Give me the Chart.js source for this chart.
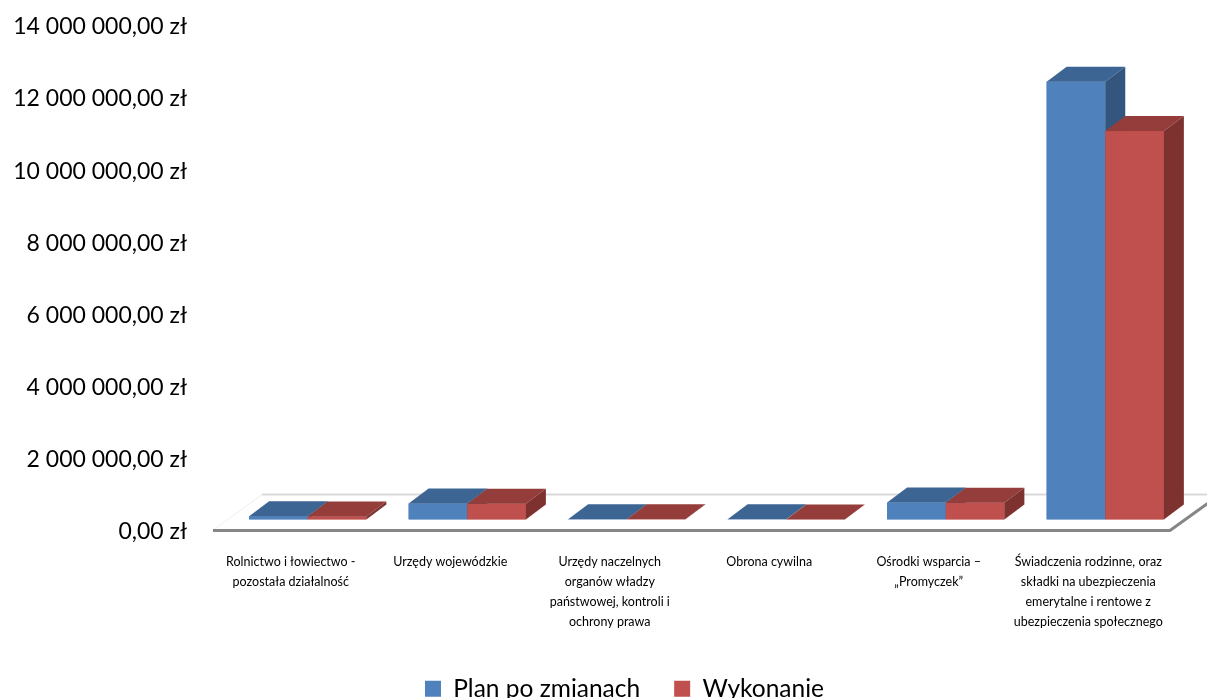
<!DOCTYPE html>
<html>
<head>
<meta charset="utf-8">
<script src="https://cdn.jsdelivr.net/npm/chart.js@4.4.1/dist/chart.umd.min.js"></script>
<style>
  html, body { margin: 0; padding: 0; background: #fff; overflow: hidden; }
  #wrap { width: 1207px; height: 711px; position: relative; }
</style>
</head>
<body>
<div id="wrap"><canvas id="budgetChart"></canvas></div>
<script>
const CATEGORIES = [
  ["Rolnictwo i łowiectwo -", "pozostała działalność"],
  ["Urzędy wojewódzkie"],
  ["Urzędy naczelnych", "organów władzy", "państwowej, kontroli i", "ochrony prawa"],
  ["Obrona cywilna"],
  ["Ośrodki wsparcia –", "„Promyczek”"],
  ["Świadczenia rodzinne, oraz", "składki na ubezpieczenia", "emerytalne i rentowe z", "ubezpieczenia społecznego"],
];

const PLAN = [90000, 445000, 5000, 4000, 470000, 12150000];
const WYKONANIE = [85000, 440000, 4000, 3000, 465000, 10780000];

const Y_TICKS = [0, 2000000, 4000000, 6000000, 8000000, 10000000, 12000000, 14000000];
const Y_TICK_LABELS = [
  "0,00 zł", "2 000 000,00 zł", "4 000 000,00 zł", "6 000 000,00 zł",
  "8 000 000,00 zł", "10 000 000,00 zł", "12 000 000,00 zł", "14 000 000,00 zł",
];

// colours of the fake 3d faces, per dataset
const FACES = [
  { front: "#4F81BD", top: "#3D6594", side: "#33557E" },
  { front: "#C0504D", top: "#943D3B", side: "#7D3230" },
];
const DEPTH_X = 20;
const DEPTH_Y = -15;

function poly(ctx, pts, color) {
  ctx.beginPath();
  ctx.moveTo(pts[0][0], pts[0][1]);
  for (let i = 1; i < pts.length; i++) ctx.lineTo(pts[i][0], pts[i][1]);
  ctx.closePath();
  ctx.fillStyle = color;
  ctx.fill();
}

// floor of the excel-like 3d chart + top/side faces of the bars
const bars3d = {
  id: "bars3d",
  afterLayout(chart) {
    // the excel legend sits a bit right of the centre
    chart.legend.left += 32;
    chart.legend.right += 32;
  },
  beforeDatasetsDraw(chart) {
    const ctx = chart.ctx;
    const area = chart.chartArea;
    const zero = chart.scales.y.getPixelForValue(0);
    ctx.save();
    // back edge of the floor
    ctx.strokeStyle = "#d9d9d9";
    ctx.lineWidth = 2;
    ctx.beginPath();
    ctx.moveTo(area.left + 34, zero - 25);
    ctx.lineTo(chart.width, zero - 25);
    ctx.stroke();
    // faint left edge
    ctx.strokeStyle = "#eeeeee";
    ctx.lineWidth = 1;
    ctx.beginPath();
    ctx.moveTo(area.left - 15, zero + 11);
    ctx.lineTo(area.left + 34, zero - 25);
    ctx.stroke();
    // front edge
    ctx.strokeStyle = "#868686";
    ctx.lineWidth = 3;
    ctx.beginPath();
    ctx.moveTo(area.left - 15, zero + 11);
    ctx.lineTo(area.right - 15, zero + 11);
    ctx.lineTo(area.right + 35, zero - 25);
    ctx.stroke();
    ctx.restore();
  },
  afterDatasetsDraw(chart) {
    const ctx = chart.ctx;
    ctx.save();
    chart.data.datasets.forEach((ds, i) => {
      const f = FACES[i];
      chart.getDatasetMeta(i).data.forEach(bar => {
        const { x, y, base, width } = bar.getProps(["x", "y", "base", "width"], true);
        const l = x - width / 2;
        const r = x + width / 2;
        ctx.fillStyle = f.front;
        ctx.fillRect(l, y, width, base - y);
        poly(ctx, [[l, y], [r, y], [r + DEPTH_X, y + DEPTH_Y], [l + DEPTH_X, y + DEPTH_Y]], f.top);
        poly(ctx, [[r, y], [r + DEPTH_X, y + DEPTH_Y], [r + DEPTH_X, base + DEPTH_Y], [r, base]], f.side);
      });
    });
    ctx.restore();
  },
};

new Chart(document.getElementById("budgetChart"), {
  type: "bar",
  data: {
    labels: CATEGORIES,
    datasets: [
      { label: "Plan po zmianach", data: PLAN, backgroundColor: FACES[0].front },
      { label: "Wykonanie", data: WYKONANIE, backgroundColor: FACES[1].front },
    ],
  },
  options: {
    responsive: true,
    maintainAspectRatio: false,
    animation: false,
    layout: { padding: { top: 15, right: 22, left: 0, bottom: 0 } },
    datasets: { bar: { barPercentage: 1, categoryPercentage: 0.735 } },
    plugins: {
      tooltip: { enabled: false },
      legend: {
        position: "bottom",
        labels: {
          font: { family: "Lato", size: 24.5 },
          color: "#000",
          boxWidth: 16,
          boxHeight: 16,
          padding: 34,
        },
      },
    },
    scales: {
      x: {
        grid: { display: false, drawTicks: false },
        border: { display: false },
        afterFit(scale) {
          scale.height -= 22;
          scale.paddingLeft = 0;
          scale.paddingRight = 0;
        },
        ticks: {
          font: { family: "Lato", size: 12.5, lineHeight: 1.58 },
          color: "#000",
          padding: 33,
          labelOffset: -17,
          maxRotation: 0,
          autoSkip: false,
        },
      },
      y: {
        min: 0,
        max: 14000000,
        grid: { display: false, drawTicks: false },
        border: { display: false },
        afterBuildTicks(scale) {
          scale.ticks = Y_TICKS.map(v => ({ value: v }));
        },
        afterFit(scale) {
          scale.width = 228;
          scale.paddingTop = 0;
          scale.paddingBottom = 0;
        },
        ticks: {
          callback: (v, i) => Y_TICK_LABELS[i],
          font: { family: "Lato", size: 23 },
          color: "#000",
          padding: 41,
          labelOffset: 12,
        },
      },
    },
  },
  plugins: [bars3d],
});
</script>
</body>
</html>
